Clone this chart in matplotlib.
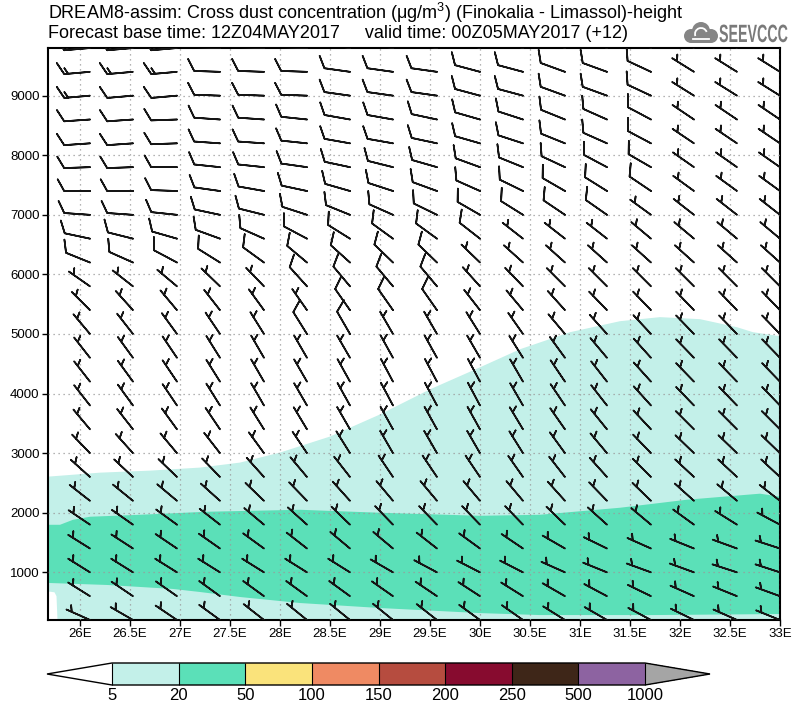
import matplotlib
matplotlib.use("Agg")
import numpy as np
import matplotlib.pyplot as plt
from matplotlib import colors, cm, font_manager
from matplotlib.patches import Circle, PathPatch, Arc
from matplotlib.textpath import TextPath
from matplotlib.font_manager import FontProperties
from matplotlib.transforms import Affine2D

# ---- cross section grid (Finokalia -> Limassol) ----
lon_pts = [26.10, 26.53, 26.97, 27.40, 27.84, 28.27, 28.70, 29.13, 29.57,
           30.00, 30.43, 30.85, 31.27, 31.71, 32.14, 32.57, 33.00]
heights = [200, 600, 1000, 1400, 1800, 2200, 2600, 3000, 3400, 3800, 4200,
           4600, 5000, 5400, 5800, 6200, 6600, 7000, 7400, 7800, 8200, 8600,
           9000, 9400, 9800]

# wind direction (deg, from) -- rows listed top (9800 m) to bottom (200 m)
wdir = [
    [265, 265, 265, 272, 272, 272, 278, 278, 278, 285, 285, 290, 290, 295, 302, 302, 302],
    [265, 265, 265, 272, 272, 272, 278, 278, 278, 285, 285, 290, 290, 295, 302, 302, 302],
    [265, 265, 265, 272, 272, 272, 278, 278, 278, 285, 285, 290, 290, 295, 302, 302, 302],
    [266, 266, 268, 274, 274, 276, 280, 280, 282, 286, 288, 292, 294, 298, 304, 304, 304],
    [266, 266, 268, 274, 274, 276, 280, 280, 282, 286, 288, 292, 294, 298, 304, 304, 304],
    [268, 268, 270, 276, 276, 278, 282, 284, 286, 290, 292, 295, 298, 300, 305, 305, 305],
    [270, 270, 272, 278, 280, 282, 286, 288, 290, 294, 296, 300, 302, 304, 306, 306, 306],
    [274, 274, 276, 282, 284, 288, 292, 294, 296, 300, 302, 304, 305, 306, 308, 308, 308],
    [282, 284, 286, 290, 294, 298, 302, 306, 306, 308, 308, 308, 308, 310, 310, 310, 310],
    [292, 294, 298, 302, 306, 310, 312, 314, 314, 314, 312, 312, 312, 312, 312, 312, 312],
    [305, 308, 310, 314, 316, 318, 320, 320, 320, 318, 316, 315, 315, 315, 315, 315, 315],
    [315, 318, 320, 322, 324, 325, 325, 325, 325, 322, 320, 318, 316, 316, 316, 316, 316],
    [320, 322, 324, 326, 328, 328, 330, 330, 330, 328, 325, 320, 318, 317, 316, 316, 316],
    [322, 324, 326, 328, 330, 330, 330, 331, 331, 330, 328, 324, 320, 318, 316, 316, 316],
    [322, 324, 326, 328, 330, 330, 331, 332, 332, 332, 330, 326, 322, 318, 316, 316, 316],
    [322, 324, 326, 328, 330, 330, 331, 332, 332, 332, 330, 326, 322, 318, 316, 316, 316],
    [320, 322, 324, 326, 328, 329, 330, 331, 331, 331, 329, 325, 321, 317, 315, 315, 315],
    [316, 318, 320, 322, 324, 326, 328, 330, 330, 330, 328, 324, 320, 316, 314, 314, 314],
    [312, 313, 314, 316, 318, 320, 322, 326, 326, 326, 325, 322, 318, 315, 313, 313, 313],
    [308, 309, 310, 312, 314, 316, 318, 320, 320, 320, 320, 318, 316, 314, 312, 310, 308],
    [304, 305, 306, 308, 310, 312, 314, 316, 316, 316, 316, 314, 312, 310, 306, 302, 298],
    [302, 303, 304, 305, 306, 308, 310, 310, 308, 306, 304, 300, 296, 294, 292, 290, 288],
    [302, 302, 302, 302, 302, 302, 302, 300, 298, 297, 297, 294, 292, 290, 290, 288, 288],
    [302, 304, 305, 306, 306, 306, 306, 305, 304, 303, 302, 300, 298, 296, 294, 292, 290],
    [294, 300, 304, 306, 308, 309, 309, 309, 308, 306, 305, 302, 300, 298, 296, 294, 292],
]
# wind speed (5 = half barb, 10 = full barb), same row order
wspd = [
    [15, 15, 15, 10, 10, 10, 10, 10, 10, 10, 10, 10, 10, 10, 5, 5, 5],
    [15, 15, 15, 10, 10, 10, 10, 10, 10, 10, 10, 10, 10, 10, 5, 5, 5],
    [15, 10, 10, 10, 10, 10, 10, 10, 10, 10, 10, 10, 10, 10, 5, 5, 5],
    [10, 10, 10, 10, 10, 10, 10, 10, 10, 10, 10, 10, 10, 10, 5, 5, 5],
    [10, 10, 10, 10, 10, 10, 10, 10, 10, 10, 10, 10, 10, 10, 5, 5, 5],
    [10, 10, 10, 10, 10, 10, 10, 10, 10, 10, 10, 10, 10, 10, 5, 5, 5],
    [10, 10, 10, 10, 10, 10, 10, 10, 10, 10, 10, 10, 10, 10, 5, 5, 5],
    [10, 10, 10, 10, 10, 10, 10, 10, 10, 10, 10, 10, 10, 5, 5, 5, 5],
    [10, 10, 10, 10, 10, 10, 10, 10, 10, 10, 5, 5, 5, 5, 5, 5, 5],
    [10, 10, 10, 10, 10, 10, 10, 10, 10, 5, 5, 5, 5, 5, 5, 5, 5],
    [5, 5, 5, 5, 5, 10, 10, 10, 10, 5, 5, 5, 5, 5, 5, 5, 5],
    [5, 5, 5, 5, 5, 5, 10, 10, 10, 5, 5, 5, 5, 5, 5, 5, 5],
    [5, 5, 5, 5, 5, 10, 10, 5, 5, 5, 5, 5, 5, 5, 5, 5, 5],
    [5, 5, 5, 5, 5, 5, 5, 5, 5, 5, 5, 5, 5, 5, 5, 5, 5],
    [5, 5, 5, 5, 5, 5, 5, 5, 5, 5, 5, 5, 5, 5, 5, 5, 5],
    [5, 5, 5, 5, 5, 5, 5, 5, 5, 5, 5, 5, 5, 5, 5, 5, 5],
    [5, 5, 5, 5, 5, 5, 5, 5, 5, 5, 5, 5, 5, 5, 5, 5, 5],
    [5, 5, 5, 5, 5, 5, 5, 5, 5, 5, 5, 5, 5, 5, 5, 5, 5],
    [5, 5, 5, 5, 5, 5, 5, 5, 5, 5, 5, 5, 5, 5, 5, 5, 5],
    [5, 5, 5, 5, 5, 5, 5, 5, 5, 5, 5, 5, 5, 5, 5, 5, 5],
    [5, 5, 5, 5, 5, 5, 5, 5, 5, 5, 5, 5, 5, 5, 5, 5, 5],
    [5, 5, 5, 5, 5, 5, 5, 5, 5, 5, 5, 5, 5, 5, 5, 5, 5],
    [5, 5, 5, 5, 5, 5, 5, 5, 5, 5, 5, 5, 5, 5, 5, 5, 5],
    [5, 5, 5, 5, 5, 5, 5, 5, 5, 5, 5, 5, 5, 5, 5, 5, 5],
    [5, 5, 5, 5, 5, 5, 5, 5, 5, 5, 5, 5, 5, 5, 5, 5, 5],
]

# ---- dust concentration contours (height of iso-lines, m) ----
c5_top_lon = [25.68, 26.20, 26.70, 27.20, 27.60, 28.00, 28.50, 29.00, 29.50,
              30.00, 30.40, 30.90, 31.40, 31.80, 32.20, 32.57, 32.73, 33.00]
c5_top_h = [2606, 2673, 2707, 2758, 2842, 3010, 3279, 3650, 4071,
            4441, 4744, 5030, 5215, 5283, 5249, 5114, 5030, 4963]
c5_bot_lon = [33.00, 25.775, 25.765, 25.745, 25.70, 25.68]
c5_bot_h = [200, 200, 600, 665, 675, 675]

c20_top_lon = [25.68, 25.80, 25.93, 26.10, 26.60, 27.27, 28.20, 29.00, 30.00,
               30.60, 31.40, 32.07, 32.80, 33.00]
c20_top_h = [1798, 1798, 1882, 1933, 1966, 2017, 2050, 2000, 1949,
             1966, 2084, 2219, 2320, 2269]
c20_bot_lon = [33.00, 31.73, 30.60, 30.00, 29.00, 28.20, 27.60, 27.20, 26.93, 26.27, 25.68]
c20_bot_h = [300, 283, 283, 316, 401, 485, 586, 670, 721, 788, 822]

levels = [5, 20, 50, 100, 150, 200, 250, 500, 1000]
level_colors = ['#c3f0e9', '#5be0b8', '#fae37b', '#ef8a63', '#b64c3f',
                '#870b2f', '#3e2618', '#8d63a1']

xticks = [26, 26.5, 27, 27.5, 28, 28.5, 29, 29.5, 30, 30.5, 31, 31.5, 32, 32.5, 33]
xticklabels = ['26E', '26.5E', '27E', '27.5E', '28E', '28.5E', '29E', '29.5E',
               '30E', '30.5E', '31E', '31.5E', '32E', '32.5E', '33E']
yticks = [1000, 2000, 3000, 4000, 5000, 6000, 7000, 8000, 9000]

title1 = 'DREAM8-assim: Cross dust concentration ($\\mu$g/m$^3$) (Finokalia - Limassol)-height'
title2 = 'Forecast base time: 12Z04MAY2017     valid time: 00Z05MAY2017 (+12)'

names = {f.name for f in font_manager.fontManager.ttflist}
base_font = 'Liberation Sans' if 'Liberation Sans' in names else 'DejaVu Sans'
plt.rcParams['font.family'] = [base_font, 'DejaVu Sans']
plt.rcParams['mathtext.fontset'] = 'custom'
plt.rcParams['mathtext.rm'] = base_font
plt.rcParams['mathtext.it'] = base_font

fig = plt.figure(figsize=(8.0, 7.09), dpi=100)
ax = fig.add_axes([48 / 800, 1 - 620 / 709, 732 / 800, 572 / 709])

ax.fill(c5_top_lon + c5_bot_lon, c5_top_h + c5_bot_h, color=level_colors[0], lw=0, zorder=1)
ax.fill(c20_top_lon + c20_bot_lon, c20_top_h + c20_bot_h, color=level_colors[1], lw=0, zorder=1.1)

X, Y = np.meshgrid(lon_pts, heights)
d = np.radians(np.array(wdir[::-1], dtype=float))
s = np.array(wspd[::-1], dtype=float)
U = -s * np.sin(d)
V = -s * np.cos(d)
ax.barbs(X, Y, U, V, length=6.1, linewidth=1.2, color='#151515', zorder=3,
         sizes=dict(height=0.45, width=0.5, spacing=0.15),
         barb_increments=dict(half=5, full=10, flag=50))

ax.set_xlim(25.68, 33.0)
ax.set_ylim(200, 9800)
ax.set_xticks(xticks)
ax.set_xticklabels(xticklabels)
ax.set_yticks(yticks)
ax.set_yticklabels([str(v) for v in yticks])
ax.set_axisbelow(False)
ax.grid(True, color='#9a9a9a', linestyle=(0, (1, 3)), linewidth=0.9)
ax.tick_params(direction='out', length=4, width=1, labelsize=9.5, pad=2)
for sp in ax.spines.values():
    sp.set_linewidth(1.5)

fig.text(48 / 800, 1 - 13 / 709, title1, fontsize=13, va='center', ha='left')
fig.text(48 / 800, 1 - 33 / 709, title2, fontsize=13, va='center', ha='left')

# colour bar
cmap = colors.ListedColormap(level_colors)
cmap.set_under('white')
cmap.set_over('#a5a5a5')
norm = colors.BoundaryNorm(levels, cmap.N)
cax = fig.add_axes([47 / 800, 1 - 685 / 709, 663 / 800, 22 / 709])
cb = fig.colorbar(cm.ScalarMappable(norm=norm, cmap=cmap), cax=cax,
                  orientation='horizontal', extend='both', extendfrac=0.122,
                  ticks=levels, drawedges=True, spacing='uniform')
cb.outline.set_linewidth(1)
cb.dividers.set_linewidth(0.8)
cax.tick_params(length=0, labelsize=12, pad=2)
cax.set_xticklabels([str(v) for v in levels])

# logo
lax = fig.add_axes([682 / 800, 1 - 46 / 709, 108 / 800, 28 / 709])
lax.set_xlim(0, 108)
lax.set_ylim(0, 28)
lax.axis('off')
gray = '#858585'
for cx, cy, r in [(9, 10, 7), (19, 15, 9), (29, 10, 7)]:
    lax.add_patch(Circle((cx, cy), r, color=gray, lw=0))
lax.add_patch(plt.Rectangle((9, 3), 20, 8, color=gray, lw=0))
lax.add_patch(Arc((19, 12), 12, 12, theta1=20, theta2=200, color='white', lw=1.3))
lax.plot([11, 27], [7, 7], color='white', lw=1.3)
tp = TextPath((0, 0), 'SEEVCCC', size=25, prop=FontProperties(family=base_font, weight='bold'))
tp = Affine2D().scale(0.57, 1.0).translate(37, 4).transform_path(tp)
lax.add_patch(PathPatch(tp, color='#7a7a7a', lw=0))

fig.savefig('out.png', dpi=100)
